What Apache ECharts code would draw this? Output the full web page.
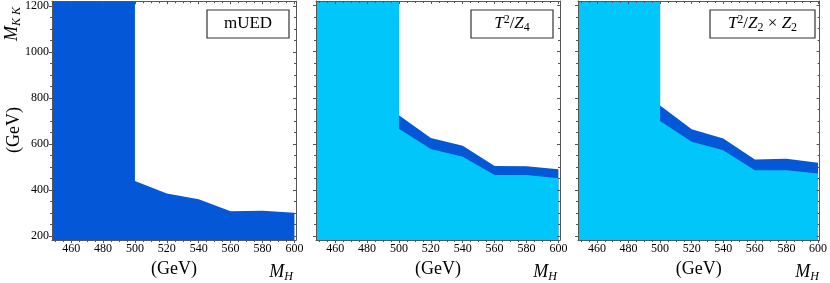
<!DOCTYPE html>
<html><head><meta charset="utf-8">
<script src="https://cdn.jsdelivr.net/npm/echarts@6/dist/echarts.min.js"></script>
<style>html,body{margin:0;padding:0;background:#fff}#c{width:830px;height:283px}</style>
</head><body><div id="c"></div>
<script>
// ---- data ----
const massH = [500, 520, 540, 560, 580, 600];          // M_H (GeV)
const muedBound   = [440, 385, 360, 308, 310, 302];     // mUED excluded below
const z4Lower     = [666, 578, 544, 465, 465, 451];     // T^2/Z4 light region top
const z4Upper     = [725, 626, 592, 504, 503, 490];     // T^2/Z4 dark band top
const z22Lower    = [700, 610, 573, 486, 486, 472];     // T^2/Z2xZ2 light region top
const z22Upper    = [767, 664, 624, 533, 536, 519];     // T^2/Z2xZ2 dark band top
const wallMH = 500;                                     // vertical edge of region
const xTicks = [460, 480, 500, 520, 540, 560, 580, 600];
const yTicks = [200, 400, 600, 800, 1000, 1200];
const xRange = [448, 601];
const yRange = [183, 1220];
const panelLabels = [
  '{n|mUED}',
  '{i|T}{sup|2}{n|/}{i|Z}{sub|4}',
  '{i|T}{sup|2}{n|/}{i|Z}{sub|2}{n| × }{i|Z}{sub|2}'
];

const xMinor = []; for (let v = 450; v <= 600; v += 5) xMinor.push(v);
const yMinor = []; for (let v = 200; v <= 1200; v += 50) yMinor.push(v);

// ---- style / layout ----
const FONT = 'Liberation Serif';
const DARK = '#0457d6';
const CYAN = '#00c6fa';
const FRAME = '#555';
const gridLefts = [52, 316, 578];
const GW = 244, GH = 246, GT = 1;
const boxW = [82, 82, 105];

const rich = {
  n:   {fontFamily: FONT, fontSize: 17, lineHeight: 20, color: '#000'},
  i:   {fontFamily: FONT, fontSize: 17, lineHeight: 20, fontStyle: 'italic', color: '#000'},
  sup: {fontFamily: FONT, fontSize: 12, lineHeight: 12, verticalAlign: 'top', color: '#000'},
  sub: {fontFamily: FONT, fontSize: 12, lineHeight: 12, verticalAlign: 'bottom', color: '#000'},
  si:  {fontFamily: FONT, fontSize: 12, lineHeight: 12, verticalAlign: 'bottom', fontStyle: 'italic', color: '#000'},
  big: {fontFamily: FONT, fontSize: 18, lineHeight: 22, color: '#000'},
  bigi:{fontFamily: FONT, fontSize: 18, lineHeight: 22, fontStyle: 'italic', color: '#000'}
};

const grids = [], xAxes = [], yAxes = [], series = [], graphic = [];
const ls = {color: FRAME, width: 1};
const fmt = v => String(v);

gridLefts.forEach((L, g) => {
  grids.push({left: L, top: GT, width: GW, height: GH, containLabel: false});
  const bx = {gridIndex: g, type: 'value', min: xRange[0], max: xRange[1], z: 5,
    splitLine: {show: false}, axisLine: {show: false, onZero: false},
    axisLabel: {show: false}, axisTick: {show: false}};
  xAxes.push(
    {...bx, position: 'bottom',
      axisLine: {show: true, onZero: false, lineStyle: ls},
      axisTick: {show: true, inside: false, length: 3, customValues: xTicks, lineStyle: ls},
      axisLabel: {show: true, customValues: xTicks, formatter: fmt, margin: 3, fontFamily: FONT, fontSize: 12, color: '#000'},
      name: '(GeV)', nameLocation: 'middle', nameGap: 19,
      nameTextStyle: {fontFamily: FONT, fontSize: 18, color: '#000'}},
    {...bx, position: 'bottom', axisTick: {show: true, inside: false, length: 2, customValues: xMinor, lineStyle: ls}},
    {...bx, position: 'top', axisLine: {show: true, onZero: false, lineStyle: ls},
      axisTick: {show: true, inside: true, length: 3, customValues: xTicks, lineStyle: ls}},
    {...bx, position: 'top', axisTick: {show: true, inside: true, length: 2, customValues: xMinor, lineStyle: ls}}
  );
  const by = {gridIndex: g, type: 'value', min: yRange[0], max: yRange[1], z: 5,
    splitLine: {show: false}, axisLine: {show: false, onZero: false},
    axisLabel: {show: false}, axisTick: {show: false}};
  yAxes.push(
    {...by, position: 'left', axisLine: {show: true, onZero: false, lineStyle: ls},
      axisTick: {show: true, inside: false, length: 3, customValues: yTicks, lineStyle: ls},
      axisLabel: {show: g === 0, customValues: yTicks, formatter: fmt, margin: 3, fontFamily: FONT, fontSize: 12, color: '#000'}},
    {...by, position: 'left', axisTick: {show: true, inside: false, length: 2, customValues: yMinor, lineStyle: ls}},
    {...by, position: 'right', axisLine: {show: true, onZero: false, lineStyle: ls},
      axisTick: {show: true, inside: true, length: 3, customValues: yTicks, lineStyle: ls}},
    {...by, position: 'right', axisTick: {show: true, inside: true, length: 2, customValues: yMinor, lineStyle: ls}}
  );

  const ax = {xAxisIndex: g * 4, yAxisIndex: g * 4};
  // region: full height left of the wall, then down to the boundary curve
  const area = (vals, color, z) => ({...ax, type: 'line', z, silent: true,
    data: [[xRange[0], yRange[1]], [wallMH, yRange[1]]].concat(massH.map((x, i) => [x, vals[i]])),
    showSymbol: false, symbol: 'none',
    lineStyle: {width: 0}, areaStyle: {color, opacity: 1, origin: 'start'}});
  if (g === 0) {
    series.push(area(muedBound, DARK, 2));
  } else if (g === 1) {
    series.push(area(z4Upper, DARK, 2), area(z4Lower, CYAN, 3));
  } else {
    series.push(area(z22Upper, DARK, 2), area(z22Lower, CYAN, 3));
  }

  // label box
  const bw = boxW[g], bxp = L + GW - 7 - bw;
  graphic.push({type: 'rect', z: 10, shape: {x: bxp, y: 10, width: bw, height: 28},
    style: {fill: '#fff', stroke: '#333', lineWidth: 1.2}});
  graphic.push({type: 'text', z: 11, x: bxp + bw / 2, y: 24,
    style: {text: panelLabels[g], rich, align: 'center', verticalAlign: 'middle'}});
  // M_H
  graphic.push({type: 'text', z: 11, x: L + GW - 3, y: 272,
    style: {text: '{bigi|M}{si|H}', rich, align: 'right', verticalAlign: 'middle'}});
});

// y-axis title
graphic.push({type: 'text', z: 11, x: 12, y: 24, rotation: Math.PI / 2,
  style: {text: '{bigi|M}{si|K K}', rich, align: 'center', verticalAlign: 'middle'}});
graphic.push({type: 'text', z: 11, x: 14, y: 130, rotation: Math.PI / 2,
  style: {text: '{big|(GeV)}', rich, align: 'center', verticalAlign: 'middle'}});

const chart = echarts.init(document.getElementById('c'), null, {renderer: 'canvas'});
chart.setOption({
  animation: false,
  backgroundColor: '#fff',
  grid: grids, xAxis: xAxes, yAxis: yAxes, series, graphic
});
</script></body></html>
